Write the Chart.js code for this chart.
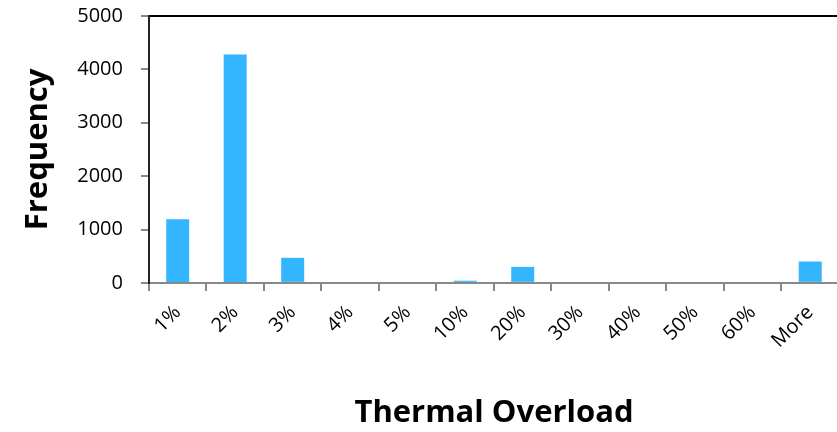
<!DOCTYPE html>
<html>
<head>
<meta charset="utf-8">
<script src="https://cdn.jsdelivr.net/npm/chart.js@4"></script>
<style>
  html, body { margin: 0; padding: 0; background: #fff; overflow: hidden; }
  #wrap { width: 839px; height: 432px; }
</style>
</head>
<body>
<div id="wrap"><canvas id="c" width="839" height="432"></canvas></div>
<script>
const categories = ['1%', '2%', '3%', '4%', '5%', '10%', '20%', '30%', '40%', '50%', '60%', 'More'];
const frequency = [1190, 4280, 470, 0, 0, 40, 300, 0, 0, 0, 0, 400];
const yTicks = [0, 1000, 2000, 3000, 4000, 5000];

const fontFamily = '"Open Sans", Lato, sans-serif';

new Chart(document.getElementById('c').getContext('2d'), {
    type: 'bar',
    data: {
        labels: categories,
        datasets: [{
            label: 'Frequency',
            data: frequency,
            backgroundColor: '#33B6FF',
            borderWidth: 0,
            barPercentage: 0.4,
            categoryPercentage: 1.0
        }]
    },
    options: {
        responsive: false,
        animation: false,
        layout: { padding: { left: 20, top: 16, right: 0, bottom: 0 } },
        plugins: {
            legend: { display: false },
            tooltip: { enabled: false }
        },
        scales: {
            x: {
                grid: {
                    drawOnChartArea: false,
                    drawTicks: true,
                    tickLength: 8,
                    offset: true,
                    color: '#888888',
                    lineWidth: 2
                },
                border: { color: '#888888', width: 2 },
                ticks: {
                    color: '#000000',
                    maxRotation: 45,
                    minRotation: 45,
                    padding: 10,
                    font: { family: fontFamily, size: 20 }
                },
                title: {
                    display: true,
                    text: 'Thermal Overload',
                    color: '#000000',
                    padding: { top: 32, bottom: 0 },
                    font: { family: fontFamily, size: 31, weight: 'bold' }
                }
            },
            x2: {
                position: 'top',
                labels: categories,
                grid: { display: false, drawTicks: false },
                border: { color: '#000000', width: 2 },
                ticks: { display: false },
                afterFit: axis => { axis.height = 0; }
            },
            y: {
                min: 0,
                max: 5000,
                afterBuildTicks: axis => { axis.ticks = yTicks.map(v => ({ value: v })); },
                afterFit: axis => { axis.paddingTop = 0; },
                grid: {
                    drawOnChartArea: false,
                    drawTicks: true,
                    tickLength: 8,
                    color: '#888888',
                    lineWidth: 2
                },
                border: { color: '#222222', width: 2 },
                ticks: {
                    color: '#000000',
                    padding: 18,
                    callback: v => String(v),
                    font: { family: fontFamily, size: 20, lineHeight: 0.5 }
                },
                title: {
                    display: true,
                    text: 'Frequency',
                    color: '#000000',
                    padding: { top: 0, bottom: 2 },
                    font: { family: fontFamily, size: 31, weight: 'bold' }
                }
            }
        }
    }
});
</script>
</body>
</html>
